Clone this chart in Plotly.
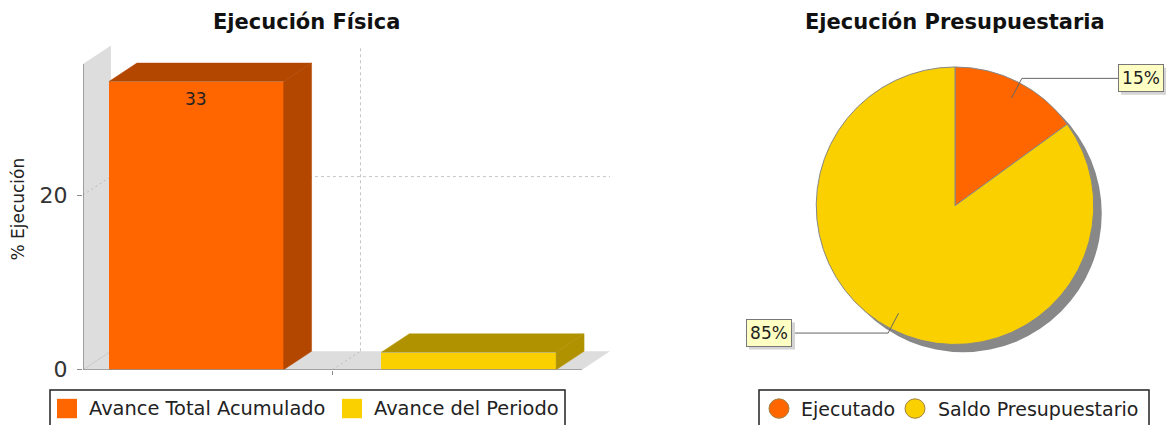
import math
import plotly.graph_objects as go

W, H = 1167, 439

# ---------------- data ----------------
bar_title = "Ejecución Física"
y_title = "% Ejecución"
bar_series = ["Avance Total Acumulado", "Avance del Periodo"]
bar_values = [33, 2]
bar_labels = ["33", ""]
bar_colors = ["#FF6600", "#FAD000"]
bar_side_colors = ["#B34700", "#B09200"]
y_tick_vals = [0, 20]
y_tick_text = ["0", "20"]

pie_title = "Ejecución Presupuestaria"
pie_labels = ["Ejecutado", "Saldo Presupuestario"]
pie_values = [15, 85]
pie_colors = ["#FF6600", "#FAD000"]

# ---------------- style / layout constants ----------------
FONT = "DejaVu Sans"
X_MIN, X_MAX = -1.0, 1.0      # front plane of the category axis
DX, DY = 0.112, 2.11          # 3D depth offset (axis units)
Y_TOP = 35.0                  # front top of the plot area
BAR_W, GAP = 0.7, 0.392
WALL = "#DDDDDD"
GRID = "#C4C4C4"
AXIS = "#8A8A8A"

PIE_CX, PIE_CY, PIE_R = 955, 212, 143
SHADOW = 8


def px(x):
    return x / W


def py(y):
    return 1 - y / H


fig = go.Figure()

# ---------------- 3D bar chart ----------------
n = len(bar_values)
centers = [(i - (n - 1) / 2) * (BAR_W + GAP) for i in range(n)]

for i in range(n):
    c, v = centers[i], bar_values[i]
    xl, xr = c - BAR_W / 2, c + BAR_W / 2
    fig.add_trace(go.Bar(
        x=[c], y=[v], width=BAR_W, marker=dict(color=bar_colors[i], line=dict(width=0)),
        showlegend=False, hoverinfo="skip", xaxis="x", yaxis="y"))
    # top face
    fig.add_trace(go.Scatter(
        x=[xl, xl + DX, xr + DX, xr, xl], y=[v, v + DY, v + DY, v, v],
        mode="lines", fill="toself", fillcolor=bar_side_colors[i],
        line=dict(width=0.5, color=bar_side_colors[i]), showlegend=False,
        hoverinfo="skip", xaxis="x", yaxis="y"))
    # side face
    fig.add_trace(go.Scatter(
        x=[xr, xr + DX, xr + DX, xr, xr], y=[0, DY, v + DY, v, 0],
        mode="lines", fill="toself", fillcolor=bar_side_colors[i],
        line=dict(width=0.5, color=bar_side_colors[i]), showlegend=False,
        hoverinfo="skip", xaxis="x", yaxis="y"))

shapes = []
# wall and floor
shapes.append(dict(type="path", xref="x", yref="y", layer="below",
                   path=f"M {X_MIN},0 L {X_MIN+DX},{DY} L {X_MIN+DX},{Y_TOP+DY} L {X_MIN},{Y_TOP} Z",
                   fillcolor=WALL, line=dict(width=0)))
shapes.append(dict(type="path", xref="x", yref="y", layer="below",
                   path=f"M {X_MIN},0 L {X_MIN+DX},{DY} L {X_MAX+DX},{DY} L {X_MAX},0 Z",
                   fillcolor=WALL, line=dict(width=0)))
# gridlines on back plane
for t in y_tick_vals[1:]:
    shapes.append(dict(type="line", xref="x", yref="y", layer="below",
                       x0=X_MIN + DX, x1=X_MAX + DX, y0=t + DY, y1=t + DY,
                       line=dict(color=GRID, width=1, dash="3px,3px")))
    shapes.append(dict(type="line", xref="x", yref="y", layer="below",
                       x0=X_MIN, x1=X_MIN + DX, y0=t, y1=t + DY,
                       line=dict(color="#BBBBBB", width=1, dash="2px,3px")))
shapes.append(dict(type="line", xref="x", yref="y", layer="below",
                   x0=DX, x1=DX, y0=DY, y1=Y_TOP + DY,
                   line=dict(color=GRID, width=1, dash="3px,3px")))
shapes.append(dict(type="line", xref="x", yref="y", layer="below",
                   x0=0, x1=DX, y0=0, y1=DY,
                   line=dict(color="#BBBBBB", width=1, dash="2px,3px")))
shapes.append(dict(type="line", xref="x", yref="y", layer="below",
                   x0=X_MIN, x1=X_MIN + DX, y0=0, y1=DY,
                   line=dict(color="#C8C8C8", width=1)))
# axis lines
shapes.append(dict(type="line", xref="x", yref="y", layer="above",
                   x0=X_MIN, x1=X_MIN, y0=0, y1=Y_TOP, line=dict(color=AXIS, width=1.5)))
shapes.append(dict(type="line", xref="x", yref="y", layer="above",
                   x0=X_MIN - 0.012, x1=X_MAX, y0=0, y1=0, line=dict(color=AXIS, width=1.5)))

annotations = []
for i in range(n):
    if bar_labels[i]:
        annotations.append(dict(x=centers[i], y=bar_values[i], xref="x", yref="y",
                                text=bar_labels[i], showarrow=False, yanchor="top",
                                yshift=-5, font=dict(family=FONT, size=17, color="#222")))

# titles
annotations.append(dict(x=px(306), y=py(23), xref="paper", yref="paper", text=f"<b>{bar_title}</b>",
                        showarrow=False, xanchor="center", yanchor="middle",
                        font=dict(family=FONT, size=21, color="#111")))
annotations.append(dict(x=px(955), y=py(23), xref="paper", yref="paper", text=f"<b>{pie_title}</b>",
                        showarrow=False, xanchor="center", yanchor="middle",
                        font=dict(family=FONT, size=21, color="#111")))
annotations.append(dict(x=px(18), y=py(216), xref="paper", yref="paper", text=y_title,
                        showarrow=False, textangle=-90, xanchor="center", yanchor="middle",
                        font=dict(family=FONT, size=17, color="#222")))


def open_box(x0, x1, top):
    # legend frame; its bottom edge falls below the picture, so only three sides show
    return dict(type="path", xref="paper", yref="paper", layer="above",
                path=f"M {px(x0)},{py(H - 1)} L {px(x0)},{py(top)} L {px(x1)},{py(top)} L {px(x1)},{py(H - 1)}",
                line=dict(color="#222", width=1.5))


# ---------------- bar legend ----------------
LEG_CY = 421
shapes.append(open_box(50, 565, 402))
leg_x = [57, 342]
for i in range(n):
    x0 = leg_x[i]
    shapes.append(dict(type="rect", xref="paper", yref="paper", x0=px(x0), x1=px(x0 + 20),
                       y0=py(LEG_CY + 10), y1=py(LEG_CY - 10), fillcolor=bar_colors[i],
                       line=dict(width=0), layer="above"))
    annotations.append(dict(x=px(x0 + 30), y=py(LEG_CY), xref="paper", yref="paper",
                            text=bar_series[i], showarrow=False, xanchor="left", yanchor="middle",
                            font=dict(family=FONT, size=19.4, color="#222")))

# ---------------- pie ----------------
fig.add_trace(go.Pie(
    values=[1], marker=dict(colors=["#888888"], line=dict(width=0)), sort=False,
    textinfo="none", hoverinfo="skip", showlegend=False,
    domain=dict(x=[px(PIE_CX - PIE_R + SHADOW), px(PIE_CX + PIE_R + SHADOW)],
                y=[py(PIE_CY + PIE_R + SHADOW), py(PIE_CY - PIE_R + SHADOW)])))
fig.add_trace(go.Pie(
    values=pie_values, labels=pie_labels, sort=False, direction="clockwise", rotation=0,
    marker=dict(colors=pie_colors, line=dict(color="#888888", width=1)),
    textinfo="none", hoverinfo="skip", showlegend=False,
    domain=dict(x=[px(PIE_CX - PIE_R), px(PIE_CX + PIE_R)],
                y=[py(PIE_CY + PIE_R), py(PIE_CY - PIE_R)])))

total = sum(pie_values)
cum = 0
for i, v in enumerate(pie_values):
    mid = (cum + v / 2) / total * 2 * math.pi
    cum += v
    s, c = math.sin(mid), math.cos(mid)
    xi, yi = PIE_CX + 0.87 * PIE_R * s, PIE_CY - 0.87 * PIE_R * c
    xo, yo = PIE_CX + 1.03 * PIE_R * s, PIE_CY - 1.03 * PIE_R * c
    right = s >= 0
    xl = PIE_CX + PIE_R + 20 if right else PIE_CX - PIE_R - 20
    shapes.append(dict(type="path", xref="paper", yref="paper", layer="above",
                       path=f"M {px(xi)},{py(yi)} L {px(xo)},{py(yo)} L {px(xl)},{py(yo)}",
                       line=dict(color="#666666", width=1)))
    bw, bh = 46, 28
    bx0 = xl if right else xl - bw
    shapes.append(dict(type="rect", xref="paper", yref="paper", layer="above",
                       x0=px(bx0 + 3), x1=px(min(bx0 + bw + 3, W - 1)),
                       y0=py(yo + bh / 2 + 3), y1=py(yo - bh / 2 + 3),
                       fillcolor="#D4D4D4", line=dict(width=0)))
    pct = f"{round(100 * v / total)}%"
    annotations.append(dict(x=px(xl), y=py(yo), xref="paper", yref="paper", text=pct,
                            showarrow=False, xanchor="left" if right else "right",
                            yanchor="middle", width=bw - 8, height=bh - 8, borderpad=3,
                            bgcolor="#FFFFC4", bordercolor="#777777", borderwidth=1,
                            font=dict(family=FONT, size=17, color="#222")))

# ---------------- pie legend ----------------
shapes.append(open_box(759, 1149, 402))
pie_leg_cx = [779, 915]
pie_leg_tx = [799, 936]
for i in range(len(pie_values)):
    cx = pie_leg_cx[i]
    shapes.append(dict(type="circle", xref="paper", yref="paper", x0=px(cx - 10), x1=px(cx + 10),
                       y0=py(LEG_CY + 10), y1=py(LEG_CY - 10), fillcolor=pie_colors[i],
                       line=dict(color="#A08040", width=1), layer="above"))
    annotations.append(dict(x=px(pie_leg_tx[i]), y=py(LEG_CY), xref="paper", yref="paper",
                            text=pie_labels[i], showarrow=False, xanchor="left", yanchor="middle",
                            font=dict(family=FONT, size=19, color="#222")))

fig.update_layout(
    width=W, height=H, margin=dict(l=0, r=0, t=0, b=0),
    paper_bgcolor="white", plot_bgcolor="rgba(0,0,0,0)",
    hovermode=False, showlegend=False, bargap=0, dragmode=False,
    xaxis=dict(domain=[px(83), px(610)], range=[X_MIN, X_MAX + DX],
               tickvals=[0], ticktext=[""], ticks="outside", ticklen=4, tickcolor=AXIS,
               showgrid=False, zeroline=False, showline=False, fixedrange=True),
    yaxis=dict(domain=[py(381), py(47)], range=[0, Y_TOP + DY],
               tickvals=y_tick_vals, ticktext=y_tick_text, ticks="outside", ticklen=5,
               tickcolor=AXIS, tickfont=dict(family=FONT, size=22, color="#333"),
               ticklabelstandoff=5,
               showgrid=False, zeroline=False, showline=False, fixedrange=True),
    shapes=shapes, annotations=annotations,
)

POST = (
    "document.documentElement.style.margin='0px';"
    "document.documentElement.style.overflow='hidden';"
    "document.documentElement.style.height='439px';"
    "document.body.style.margin='0px';"
    "document.body.style.overflow='hidden';"
    "document.body.style.height='439px';"
    "var g=document.getElementById('{plot_id}');"
    "g.style.overflow='hidden';"
    "g.parentElement.style.overflow='hidden';"
    "g.parentElement.style.height='439px';"
)
fig.write_html("out.html", config={"displayModeBar": False}, post_script=POST)
